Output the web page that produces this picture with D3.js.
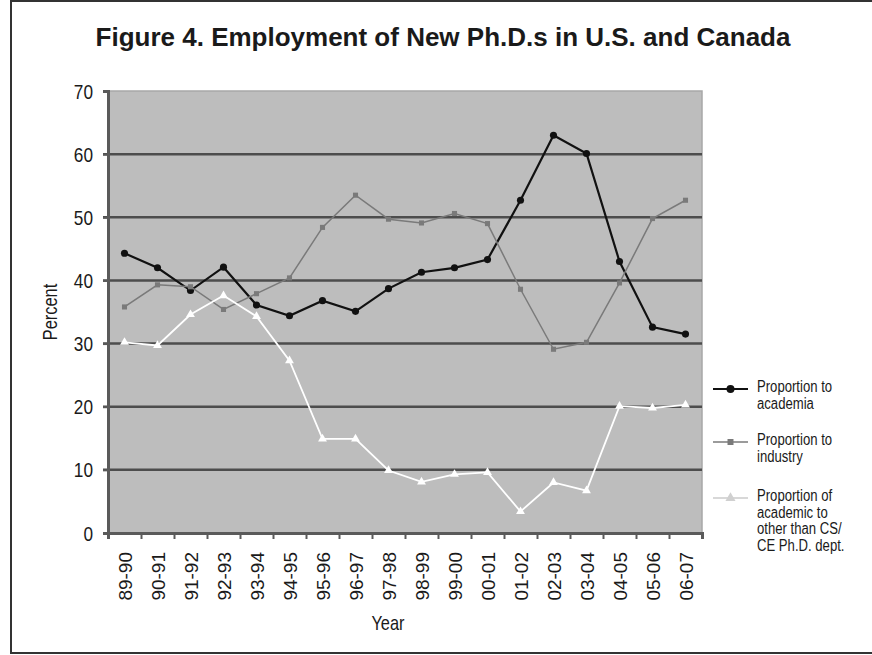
<!DOCTYPE html>
<html>
<head>
<meta charset="utf-8">
<script src="https://cdn.jsdelivr.net/npm/d3@7"></script>
<style>
  body { margin: 0; background: #fff; }
  text { fill: #1a1a1a; font-family: "Liberation Sans", Arial, sans-serif; }
</style>
</head>
<body>
<div id="chart"></div>
<script>
// chart data
const years = ["89-90", "90-91", "91-92", "92-93", "93-94", "94-95", "95-96", "96-97", "97-98",
               "98-99", "99-00", "00-01", "01-02", "02-03", "03-04", "04-05", "05-06", "06-07"];
const academia = [44.3, 42.0, 38.4, 42.1, 36.1, 34.4, 36.8, 35.1, 38.7, 41.3, 42.0, 43.3, 52.7, 63.0, 60.1, 43.0, 32.6, 31.5];
const industry = [35.8, 39.3, 39.0, 35.4, 37.9, 40.4, 48.4, 53.5, 49.7, 49.1, 50.6, 49.0, 38.6, 29.1, 30.2, 39.6, 49.8, 52.7];
const otherDept = [30.2, 29.7, 34.6, 37.6, 34.3, 27.3, 14.9, 14.9, 9.9, 8.1, 9.3, 9.6, 3.4, 8.0, 6.7, 20.1, 19.8, 20.3];
const yTicks = [0, 10, 20, 30, 40, 50, 60, 70];
const legendLabels = [["Proportion to", "academia"], ["Proportion to", "industry"],
                      ["Proportion of", "academic to", "other than CS/", "CE Ph.D. dept."]];

const width = 872, height = 655;
const plot = {left: 108, right: 702, top: 91, bottom: 533};
const squeeze = 0.82; // no condensed font installed, so narrow text is squeezed

const svg = d3.select("#chart").append("svg").attr("width", width).attr("height", height);

// writes a condensed-looking text at x,y
function narrowText(parent, x, y, str, size, anchor, rotate) {
  return parent.append("text")
      .attr("transform", `translate(${x},${y}) rotate(${rotate || 0}) scale(${squeeze},1)`)
      .attr("text-anchor", anchor || "start")
      .style("font-size", size + "px")
      .text(str);
}

// outer frame
svg.append("rect").attr("x", 11).attr("y", 1).attr("width", 880).attr("height", 652)
    .attr("fill", "none").attr("stroke", "#333").attr("stroke-width", 2);

svg.append("text").attr("x", 443).attr("y", 46)
    .attr("text-anchor", "middle")
    .style("font-weight", "bold").style("font-size", "26px")
    .text("Figure 4. Employment of New Ph.D.s in U.S. and Canada");

let x = d3.scaleBand().domain(years).range([plot.left, plot.right]);
let xEdge = d3.scaleLinear().domain([0, years.length]).range([plot.left, plot.right]);
let y = d3.scaleLinear().domain([0, 70]).range([plot.bottom, plot.top]);

// plot background
svg.append("rect").attr("x", plot.left).attr("y", plot.top)
    .attr("width", plot.right - plot.left).attr("height", plot.bottom - plot.top)
    .attr("fill", "#bdbdbd").attr("stroke", "#a8a8a8").attr("stroke-width", 1.5);

// gridlines
svg.append("g").selectAll("line").data(yTicks.filter(d => d > 0 && d < 70)).join("line")
    .attr("x1", plot.left - 5).attr("x2", plot.right)
    .attr("y1", d => y(d)).attr("y2", d => y(d))
    .attr("stroke", "#4d4d4d").attr("stroke-width", 2.5);

// y axis, labels drawn separately so they can be narrow
let yAxis = svg.append("g").attr("transform", `translate(${plot.left},0)`)
    .call(d3.axisLeft(y).tickValues(yTicks).tickSize(5).tickFormat(""));
yAxis.select(".domain").attr("stroke", "#5a5a5a").attr("stroke-width", 3);
yAxis.selectAll(".tick line").attr("stroke", "#5a5a5a").attr("stroke-width", 2);
yTicks.forEach(t => narrowText(svg, 93, y(t) + 7.5, t, 21, "end"));

// x axis: ticks on category edges, labels in the middle of each band
let xTicks = svg.append("g").attr("transform", `translate(0,${plot.bottom})`)
    .call(d3.axisBottom(xEdge).tickValues(d3.range(years.length + 1)).tickSize(6).tickFormat(""));
xTicks.select(".domain").attr("stroke", "#5a5a5a").attr("stroke-width", 3);
xTicks.selectAll(".tick line").attr("stroke", "#5a5a5a").attr("stroke-width", 2);

svg.append("g").selectAll("text").data(years).join("text")
    .attr("transform", d => `translate(${x(d) + x.bandwidth() / 2 + 7},552) rotate(-90)`)
    .attr("text-anchor", "end")
    .style("font-size", "19px")
    .text(d => d);

narrowText(svg, 57, 312, "Percent", 20, "middle", -90);
narrowText(svg, 388, 630, "Year", 20, "middle");

// series
const series = [
  {values: academia, color: "#111", width: 2.2, symbol: d3.symbolCircle, size: 40},
  {values: industry, color: "#7a7a7a", width: 1.5, symbol: d3.symbolSquare, size: 26},
  {values: otherDept, color: "#ffffff", width: 1.8, symbol: d3.symbolTriangle, size: 34}
];
let line = d3.line().x((d, i) => x(years[i]) + x.bandwidth() / 2).y(d => y(d));

series.forEach(s => {
  svg.append("path").datum(s.values).attr("d", line)
      .attr("fill", "none").attr("stroke", s.color).attr("stroke-width", s.width);
  svg.append("g").selectAll("path").data(s.values).join("path")
      .attr("transform", (d, i) => `translate(${x(years[i]) + x.bandwidth() / 2},${y(d)})`)
      .attr("d", d3.symbol().type(s.symbol).size(s.size))
      .attr("fill", s.color);
});

// legend
const legendY = [389, 442, 498];
series.forEach((s, i) => {
  let g = svg.append("g").attr("transform", `translate(713,${legendY[i]})`);
  g.append("line").attr("x1", 0).attr("x2", 35)
      .attr("stroke", i == 2 ? "#d8d8d8" : s.color).attr("stroke-width", s.width);
  g.append("path").attr("transform", "translate(17.5,0)")
      .attr("d", d3.symbol().type(s.symbol).size(s.size + 10))
      .attr("fill", i == 2 ? "#d0d0d0" : s.color);
  legendLabels[i].forEach((str, j) => narrowText(g, 44, 3 + j * 16.5, str, 16, "start"));
});
</script>
</body>
</html>
